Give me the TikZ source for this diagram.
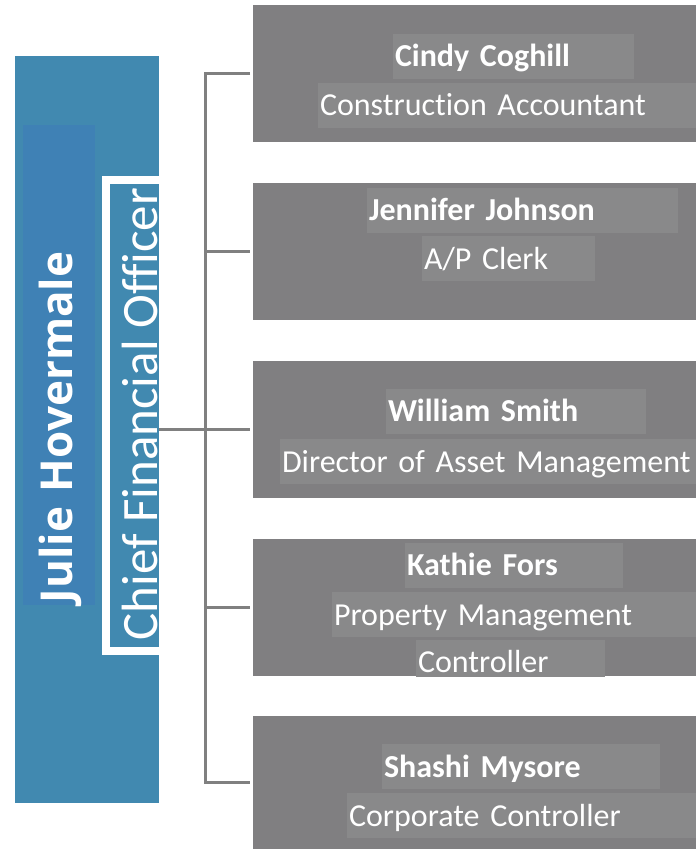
\documentclass[tikz,border=0pt]{standalone}
\usepackage{fontspec}
\setmainfont{Carlito}[Ligatures=NoCommon]
\newfontfamily\headfont{Open Sans}
\usetikzlibrary{positioning}
\definecolor{cfoblue}{RGB}{65,137,176}
\definecolor{cfohl}{RGB}{63,129,181}
\definecolor{staffgray}{RGB}{128,127,129}
\definecolor{staffhl}{RGB}{137,137,138}
\definecolor{linkgray}{RGB}{128,128,128}
\tikzset{
x=1pt, y=-1pt,
node distance=41pt,
every node/.style={inner sep=0pt, outer sep=0pt},
cfobox/.style={rectangle, fill=cfoblue, minimum width=144pt, minimum height=747pt},
staff/.style={rectangle, fill=staffgray, minimum width=443pt, minimum height=137pt, anchor=west},
role/.style={fill=staffhl, text=white, anchor=west, align=left,
  minimum height=45pt, inner xsep=2pt, text height=21pt, text depth=0pt,
  font=\fontsize{32}{38}\selectfont},
who/.style={role, font=\fontsize{32}{38}\selectfont\bfseries},
link/.style={draw=linkgray, line width=3pt},
}

\begin{document}
\begin{tikzpicture}
\useasboundingbox (0,0) rectangle (696,849);
% chief financial officer
\node (cfo) [cfobox] at (87,429.5) {};
\node (julie) [rotate=90, anchor=base west, fill=cfohl, text=white, align=left,
  text width=476pt, inner xsep=2pt, text height=49pt, text depth=23pt,
  font=\headfont\fontsize{44}{50}\selectfont\bfseries] at (72,605) {Julie Hovermale};
\begin{scope}
  \clip (cfo.south west) rectangle (cfo.north east);
  \draw [white, line width=8pt] (106,180) rectangle (180,651);
  \node (title) [rotate=90, anchor=base, text=white,
    font=\fontsize{51}{60}\selectfont] at (157,414) {Chief Financial Officer};
\end{scope}

% staff
\node (s1) [staff] at (253,73.5) {};
\node (s2) [staff, below=of s1] {};
\node (s3) [staff, below=of s2] {};
\node (s4) [staff, below=of s3] {};
\node (s5) [staff, below=40pt of s4, minimum height=133pt] {};

\node (s1who)   [who, text width=237pt]  at (393,56)    {Cindy Coghill};
\node (s1role)  [role, text width=374pt] at (318,105)   {Construction Accountant};
\node (s2who)   [who, text width=307pt]  at (367,210)   {Jennifer Johnson};
\node (s2role)  [role, text width=169pt] at (422,258.5) {A/P Clerk};
\node (s3who)   [who, text width=256pt]  at (386,411)   {William Smith};
\node (s3role)  [role, text width=412pt] at (280,461.5) {Director of Asset Management};
\node (s4who)   [who, text width=214pt]  at (405,565)   {Kathie Fors};
\node (s4role)  [role, text width=360pt] at (332,614.5) {Property Management};
\node (s4role2) [role, text width=185pt, minimum height=37pt, text height=27pt] at (416,658.5) {Controller};
\node (s5who)   [who, text width=274pt]  at (382,766.5) {Shashi Mysore};
\node (s5role)  [role, text width=345pt] at (347,815.5) {Corporate Controller};

% connectors
\coordinate (trunk) at (205,429.5);
\draw [link] (cfo.east) -- ([xshift=-3pt]s3.west);
\draw [link] ([xshift=-3pt]s1.west) -| (trunk) |- ([xshift=-3pt]s5.west);
\foreach \s in {s2,s4}
  \draw [link] (trunk |- \s.west) -- ([xshift=-3pt]\s.west);
\end{tikzpicture}
\end{document}
